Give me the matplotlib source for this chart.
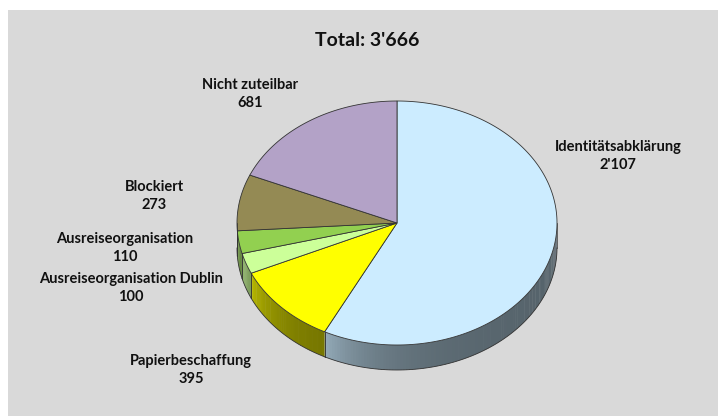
import matplotlib.pyplot as plt
import numpy as np
from matplotlib.patches import Polygon, Rectangle
from matplotlib.colors import to_rgb

plt.rcParams['font.family'] = ['Lato', 'DejaVu Sans']

# Fälle nach Vollzugsstand
categories = ['Identitätsabklärung', 'Papierbeschaffung', 'Ausreiseorganisation Dublin',
              'Ausreiseorganisation', 'Blockiert', 'Nicht zuteilbar']
values = [2107, 395, 100, 110, 273, 681]
colors = ['#CCECFF', '#FFFF00', '#CCFF99', '#92D050', '#948A54', '#B3A2C7']

# label anchor points (pixels)
label_pos = [(618, 156), (191, 370), (131, 288), (125, 248), (154, 196), (250, 94)]

total = sum(values)


def fmt(n):
    return f"{n:,}".replace(',', "'")


fig = plt.figure(figsize=(7.18, 4.16), dpi=100)
fig.patch.set_facecolor('white')
ax = fig.add_axes([0, 0, 1, 1])
ax.set_xlim(0, 718)
ax.set_ylim(416, 0)
ax.axis('off')

ax.add_patch(Rectangle((8, 10), 710, 406, facecolor='#D9D9D9', edgecolor='none'))

cx, cy = 397, 223
rx, ry = 160, 122
depth = 25


def pt(theta, dy=0):
    return cx + rx * np.cos(theta), cy - ry * np.sin(theta) + dy


# wedge angles, clockwise from 12 o'clock
bounds = [90.0]
for v in values:
    bounds.append(bounds[-1] - 360.0 * v / total)

# side walls (front half only), lit from the left end of each piece
for i, col in enumerate(colors):
    a0, a1 = bounds[i], bounds[i + 1]
    base = np.array(to_rgb(col))
    segs = []
    for k in range(-2, 2):
        s, e = max(a1, -180 + 360 * k), min(a0, 360 * k)
        if s < e:
            segs.append((s, e))
    for s, e in segs:
        n = max(int(e - s), 2)
        th = np.linspace(s, e, n + 1)
        for j in range(n):
            t0, t1 = np.radians(th[j]), np.radians(min(th[j + 1] + 0.3, e))
            u = (th[j] - s) / 20.0
            f = 0.42 + 0.3 * np.exp(-u)
            c = np.clip(base * f, 0, 1)
            quad = [pt(t0), pt(t1), pt(t1, depth), pt(t0, depth)]
            ax.add_patch(Polygon(quad, closed=True, facecolor=c, edgecolor='none'))
        th_r = np.radians(np.linspace(s, e, n + 1))
        xs, ys = zip(*[pt(t, depth) for t in th_r])
        ax.plot(xs, ys, color='#333333', lw=0.6)
        for t in (e, s):
            x0, y0 = pt(np.radians(t))
            ax.plot([x0, x0], [y0, y0 + depth], color='#333333', lw=0.5)

# top faces
for i, col in enumerate(colors):
    a0, a1 = bounds[i], bounds[i + 1]
    th = np.radians(np.linspace(a0, a1, 200))
    poly = [(cx, cy)] + [pt(t) for t in th]
    ax.add_patch(Polygon(poly, closed=True, facecolor=col, edgecolor='#333333', lw=0.6))

# labels
for name, v, (lx, ly) in zip(categories, values, label_pos):
    ax.text(lx, ly, f"{name}\n{fmt(v)}", ha='center', va='center', fontsize=10.5,
            fontweight='bold', linespacing=1.3, color='#111111')

ax.text(367, 41, f"Total: {fmt(total)}", ha='center', va='center', fontsize=14,
        fontweight='bold', color='#111111')

fig.savefig('out.png', dpi=100)
